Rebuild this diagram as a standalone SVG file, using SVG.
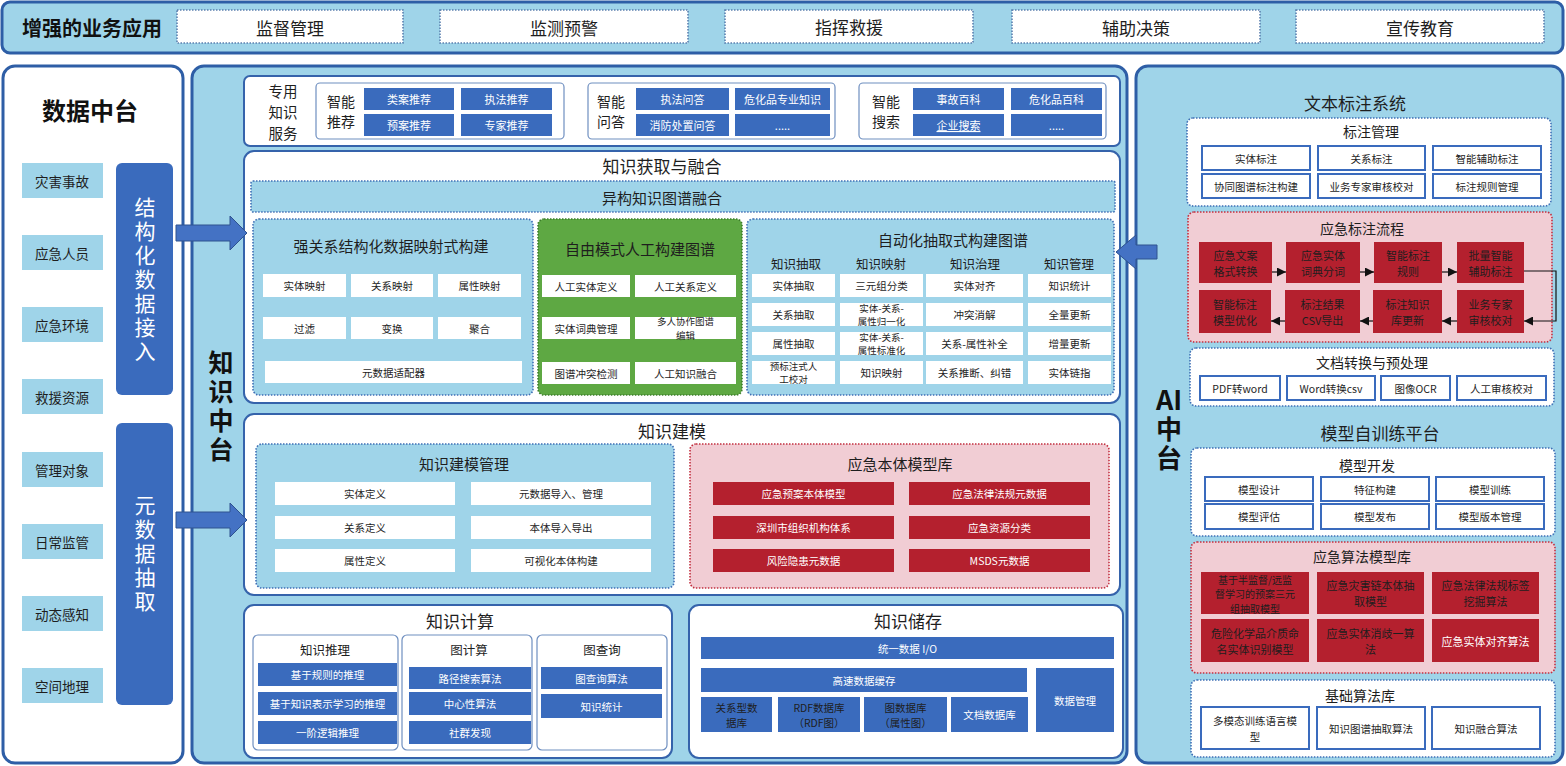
<svg xmlns="http://www.w3.org/2000/svg" width="1566" height="766" viewBox="0 0 1566 766">
<defs>
<style>
text, tspan { font-family: "Noto Sans CJK SC", "Noto Sans", sans-serif; text-anchor: middle; dominant-baseline: central; fill: #1e1e1e; }
.b { font-weight: 700; fill: #111; }
.w { fill: #fff; }
.vt { writing-mode: vertical-rl; }
.f9 { font-size: 9.5px; }
.f10 { font-size: 10.5px; }
.f11 { font-size: 11px; }
.f12 { font-size: 12.5px; }
.f13 { font-size: 13.5px; }
.f14 { font-size: 14px; }
.f15 { font-size: 15px; }
.f17 { font-size: 17px; }
.panel { fill: #9fd4e9; stroke: #2e5ea6; stroke-width: 3; }
.wpanel { fill: #fff; stroke: #2e5ea6; stroke-width: 3; }
.sec { fill: #fff; stroke: #3563ab; stroke-width: 2; }
.sub { fill: #fff; stroke: #6f8fc0; stroke-width: 1.2; }
.topbox { fill: #fff; stroke: #5b7fae; stroke-width: 1.6; stroke-dasharray: 1.5 1.5; }
.dotb { fill: #9fd4e9; stroke: #3f6fb5; stroke-width: 1.6; stroke-dasharray: 1.5 1.5; }
.dotw { fill: #fff; stroke: #3f6fb5; stroke-width: 1.6; stroke-dasharray: 1.5 1.5; }
.dotp { fill: #f1cdd4; stroke: #c23040; stroke-width: 1.6; stroke-dasharray: 1.5 1.5; }
.green { fill: #5ea843; stroke: #3d7f2b; stroke-width: 1.6; stroke-dasharray: 1.5 1.5; }
.bc { fill: #3a6bbd; }
.wc { fill: #fff; }
.wcs { fill: #fff; stroke: #3a6bbd; stroke-width: 2; }
.rc { fill: #b4202e; }
.lb { fill: #9fd4e9; }
.bar { fill: #3a6bbd; }
.blk { fill: #4472c4; stroke: #2f528f; stroke-width: 1; }
.flow { stroke: #111; stroke-width: 1.2; fill: none; }
</style>
<marker id="ah" viewBox="0 0 10 10" refX="10" refY="5" markerWidth="9" markerHeight="9" markerUnits="userSpaceOnUse" orient="auto">
<path d="M0,0 L10,5 L0,10 z" fill="#111"/>
</marker>
</defs>

<rect width="1566" height="766" fill="#fff"/>

<!-- Top bar -->
<g id="top-bar">
<rect class="panel" x="2" y="2" width="1561" height="51" rx="8"/>
<text class="b" x="92" y="27" font-size="20">增强的业务应用</text>
<rect class="topbox" x="177" y="10" width="226" height="33"/>
<text class="f17" x="290" y="27">监督管理</text>
<rect class="topbox" x="440" y="10" width="248" height="33"/>
<text class="f17" x="564" y="27">监测预警</text>
<rect class="topbox" x="725" y="10" width="248" height="33"/>
<text class="f17" x="849" y="26">指挥救援</text>
<rect class="topbox" x="1012" y="10" width="248" height="33"/>
<text class="f17" x="1136" y="27">辅助决策</text>
<rect class="topbox" x="1296" y="10" width="248" height="33"/>
<text class="f17" x="1420" y="27">宣传教育</text>
</g>

<!-- Data platform -->
<g id="data-platform">
<rect class="wpanel" x="3" y="66" width="180" height="697" rx="12"/>
<text class="b" x="90" y="109" font-size="24">数据中台</text>
<rect class="lb" x="22" y="163" width="81" height="35"/><text class="f13" x="62" y="181">灾害事故</text>
<rect class="lb" x="22" y="235" width="81" height="35"/><text class="f13" x="62" y="253">应急人员</text>
<rect class="lb" x="22" y="307" width="81" height="35"/><text class="f13" x="62" y="325">应急环境</text>
<rect class="lb" x="22" y="379" width="81" height="35"/><text class="f13" x="62" y="397">救援资源</text>
<rect class="lb" x="22" y="452" width="81" height="35"/><text class="f13" x="62" y="470">管理对象</text>
<rect class="lb" x="22" y="524" width="81" height="35"/><text class="f13" x="62" y="542">日常监管</text>
<rect class="lb" x="22" y="596" width="81" height="35"/><text class="f13" x="62" y="614">动态感知</text>
<rect class="lb" x="22" y="668" width="81" height="35"/><text class="f13" x="62" y="686">空间地理</text>
<g id="structured-ingest">
<rect class="bar" x="116" y="163" width="57" height="232" rx="6"/>
<text class="w vt" font-size="21" letter-spacing="3" x="145" y="280.5">结构化数据接入</text>
</g>
<g id="metadata-extract">
<rect class="bar" x="116" y="423" width="57" height="282" rx="6"/>
<text class="w vt" font-size="21" letter-spacing="3" x="145" y="554.5">元数据抽取</text>
</g>
</g>

<!-- Knowledge platform -->
<g id="knowledge-platform">
<rect class="panel" x="192" y="66" width="935" height="697" rx="12"/>
<text class="b vt" font-size="25" letter-spacing="4" x="221" y="407.5">知识中台</text>
</g>

<g id="knowledge-services">
<rect class="sec" x="244" y="76" width="876" height="70" rx="6"/>
<text font-size="14.5" x="283" y="90">专用</text>
<text font-size="14.5" x="283" y="111">知识</text>
<text font-size="14.5" x="283" y="132">服务</text>
<g id="smart-recommend">
<rect class="sub" x="316" y="83" width="248" height="56" rx="4"/>
<text class="f14" x="341" y="100.5">智能</text>
<text class="f14" x="341" y="121">推荐</text>
<rect class="bc" x="364" y="88" width="90" height="22"/><text class="w f11" x="409" y="99">类案推荐</text>
<rect class="bc" x="461" y="88" width="91" height="22"/><text class="w f11" x="506.5" y="99">执法推荐</text>
<rect class="bc" x="364" y="114" width="90" height="22"/><text class="w f11" x="409" y="125">预案推荐</text>
<rect class="bc" x="461" y="114" width="91" height="22"/><text class="w f11" x="506.5" y="125">专家推荐</text>
</g>
<g id="smart-qa">
<rect class="sub" x="588" y="83" width="247" height="56" rx="4"/>
<text class="f14" x="611" y="100.5">智能</text>
<text class="f14" x="611" y="121">问答</text>
<rect class="bc" x="636" y="88" width="93" height="22"/><text class="w f11" x="682.5" y="99">执法问答</text>
<rect class="bc" x="735" y="88" width="95" height="22"/><text class="w f11" x="782.5" y="99">危化品专业知识</text>
<rect class="bc" x="636" y="114" width="93" height="22"/><text class="w f11" x="682.5" y="125">消防处置问答</text>
<rect class="bc" x="735" y="114" width="95" height="22"/><text class="w f11" x="782.5" y="125">.....</text>
</g>
<g id="smart-search">
<rect class="sub" x="859" y="83" width="247" height="56" rx="4"/>
<text class="f14" x="886" y="100.5">智能</text>
<text class="f14" x="886" y="121">搜索</text>
<rect class="bc" x="913" y="88" width="91" height="22"/><text class="w f11" x="958.5" y="99">事故百科</text>
<rect class="bc" x="1011" y="88" width="91" height="22"/><text class="w f11" x="1056.5" y="99">危化品百科</text>
<rect class="bc" x="913" y="114" width="91" height="22"/><text class="w f11" x="958.5" y="125" text-decoration="underline">企业搜索</text>
<rect class="bc" x="1011" y="114" width="91" height="22"/><text class="w f11" x="1056.5" y="125">.....</text>
</g>
</g>

<g id="knowledge-acquisition">
<rect class="sec" x="244" y="151" width="876" height="252" rx="10"/>
<text class="f17" x="662" y="165">知识获取与融合</text>
<rect class="dotb" x="251" y="181" width="864" height="31" rx="2"/>
<text class="f15" x="662" y="197">异构知识图谱融合</text>
<g id="mapping-build">
<rect class="dotb" x="253" y="219" width="280" height="176" rx="6"/>
<text class="f15" x="391" y="245">强关系结构化数据映射式构建</text>
<rect class="wc" x="263" y="274" width="83" height="23"/><text class="f10" x="304.5" y="285.5">实体映射</text>
<rect class="wc" x="351" y="274" width="82" height="23"/><text class="f10" x="392" y="285.5">关系映射</text>
<rect class="wc" x="438" y="274" width="83" height="23"/><text class="f10" x="479.5" y="285.5">属性映射</text>
<rect class="wc" x="263" y="317" width="83" height="22"/><text class="f10" x="304.5" y="328">过滤</text>
<rect class="wc" x="351" y="317" width="82" height="22"/><text class="f10" x="392" y="328">变换</text>
<rect class="wc" x="438" y="317" width="83" height="22"/><text class="f10" x="479.5" y="328">聚合</text>
<rect class="wc" x="265" y="361" width="257" height="22"/><text class="f10" x="393.5" y="372">元数据适配器</text>
</g>
<g id="manual-build">
<rect class="green" x="538" y="219" width="204" height="176" rx="6"/>
<text class="f15" x="640" y="248">自由模式人工构建图谱</text>
<rect class="wc" x="542" y="275" width="88" height="22"/><text class="f10" x="586" y="286">人工实体定义</text>
<rect class="wc" x="635" y="275" width="101" height="22"/><text class="f10" x="685.5" y="286">人工关系定义</text>
<rect class="wc" x="542" y="317" width="88" height="22"/><text class="f10" x="586" y="328">实体词典管理</text>
<rect class="wc" x="635" y="317" width="101" height="22"/><text class="f9" x="685.5" y="328"><tspan x="685.5" dy="-6.9">多人协作图谱</tspan><tspan x="685.5" dy="13.8">编辑</tspan></text>
<rect class="wc" x="542" y="362" width="88" height="22"/><text class="f10" x="586" y="373">图谱冲突检测</text>
<rect class="wc" x="635" y="362" width="101" height="22"/><text class="f10" x="685.5" y="373">人工知识融合</text>
</g>
<g id="auto-build">
<rect class="dotb" x="747" y="219" width="367" height="176" rx="6"/>
<text class="f15" x="953" y="239">自动化抽取式构建图谱</text>
<text class="f12" x="796" y="263">知识抽取</text>
<text class="f12" x="881" y="263">知识映射</text>
<text class="f12" x="975" y="263">知识治理</text>
<text class="f12" x="1069" y="263">知识管理</text>
<rect class="wc" x="752" y="274" width="83" height="23"/><text class="f10" x="793.5" y="285.5">实体抽取</text>
<rect class="wc" x="840" y="274" width="83" height="23"/><text class="f10" x="881.5" y="285.5">三元组分类</text>
<rect class="wc" x="926" y="274" width="97" height="23"/><text class="f10" x="974.5" y="285.5">实体对齐</text>
<rect class="wc" x="1028" y="274" width="83" height="23"/><text class="f10" x="1069.5" y="285.5">知识统计</text>
<rect class="wc" x="752" y="303" width="83" height="23"/><text class="f10" x="793.5" y="314.5">关系抽取</text>
<rect class="wc" x="840" y="303" width="83" height="23"/><text class="f9" x="881.5" y="314.5"><tspan x="881.5" dy="-6.9">实体-关系-</tspan><tspan x="881.5" dy="13.8">属性归一化</tspan></text>
<rect class="wc" x="926" y="303" width="97" height="23"/><text class="f10" x="974.5" y="314.5">冲突消解</text>
<rect class="wc" x="1028" y="303" width="83" height="23"/><text class="f10" x="1069.5" y="314.5">全量更新</text>
<rect class="wc" x="752" y="332" width="83" height="23"/><text class="f10" x="793.5" y="343.5">属性抽取</text>
<rect class="wc" x="840" y="332" width="83" height="23"/><text class="f9" x="881.5" y="343.5"><tspan x="881.5" dy="-6.9">实体-关系-</tspan><tspan x="881.5" dy="13.8">属性标准化</tspan></text>
<rect class="wc" x="926" y="332" width="97" height="23"/><text class="f10" x="974.5" y="343.5">关系-属性补全</text>
<rect class="wc" x="1028" y="332" width="83" height="23"/><text class="f10" x="1069.5" y="343.5">增量更新</text>
<rect class="wc" x="752" y="361" width="83" height="23"/><text class="f9" x="793.5" y="372.5"><tspan x="793.5" dy="-6.9">预标注式人</tspan><tspan x="793.5" dy="13.8">工校对</tspan></text>
<rect class="wc" x="840" y="361" width="83" height="23"/><text class="f10" x="881.5" y="372.5">知识映射</text>
<rect class="wc" x="926" y="361" width="97" height="23"/><text class="f10" x="974.5" y="372.5">关系推断、纠错</text>
<rect class="wc" x="1028" y="361" width="83" height="23"/><text class="f10" x="1069.5" y="372.5">实体链指</text>
</g>
</g>

<g id="knowledge-modeling">
<rect class="sec" x="244" y="414" width="876" height="181" rx="10"/>
<text class="f17" x="672" y="430">知识建模</text>
<g id="modeling-management">
<rect class="dotb" x="256" y="444" width="418" height="144" rx="6"/>
<text class="f15" x="464" y="463">知识建模管理</text>
<rect class="wc" x="275" y="482" width="180" height="23"/><text class="f10" x="365" y="493.5">实体定义</text>
<rect class="wc" x="471" y="482" width="180" height="23"/><text class="f10" x="561" y="493.5">元数据导入、管理</text>
<rect class="wc" x="275" y="516" width="180" height="23"/><text class="f10" x="365" y="527.5">关系定义</text>
<rect class="wc" x="471" y="516" width="180" height="23"/><text class="f10" x="561" y="527.5">本体导入导出</text>
<rect class="wc" x="275" y="549" width="180" height="23"/><text class="f10" x="365" y="560.5">属性定义</text>
<rect class="wc" x="471" y="549" width="180" height="23"/><text class="f10" x="561" y="560.5">可视化本体构建</text>
</g>
<g id="ontology-library">
<rect class="dotp" x="690" y="444" width="419" height="144" rx="6"/>
<text class="f15" x="900" y="463">应急本体模型库</text>
<rect class="rc" x="713" y="482" width="181" height="23"/><text class="w f10" x="803.5" y="493.5">应急预案本体模型</text>
<rect class="rc" x="909" y="482" width="181" height="23"/><text class="w f10" x="999.5" y="493.5">应急法律法规元数据</text>
<rect class="rc" x="713" y="516" width="181" height="23"/><text class="w f10" x="803.5" y="527.5">深圳市组织机构体系</text>
<rect class="rc" x="909" y="516" width="181" height="23"/><text class="w f10" x="999.5" y="527.5">应急资源分类</text>
<rect class="rc" x="713" y="549" width="181" height="23"/><text class="w f10" x="803.5" y="560.5">风险隐患元数据</text>
<rect class="rc" x="909" y="549" width="181" height="23"/><text class="w f10" x="999.5" y="560.5">MSDS元数据</text>
</g>
</g>

<g id="knowledge-computing">
<rect class="sec" x="244" y="605" width="428" height="153" rx="10"/>
<text class="f17" x="460" y="620">知识计算</text>
<g id="reasoning">
<rect class="sub" x="253" y="635" width="145" height="115" rx="5"/>
<text class="f12" x="325" y="649">知识推理</text>
<rect class="bc" x="258" y="663" width="139" height="23"/><text class="w f10" x="327.5" y="674.5">基于规则的推理</text>
<rect class="bc" x="258" y="692" width="139" height="23"/><text class="w f10" x="327.5" y="703.5">基于知识表示学习的推理</text>
<rect class="bc" x="258" y="721" width="139" height="23"/><text class="w f10" x="327.5" y="732.5">一阶逻辑推理</text>
</g>
<g id="graph-compute">
<rect class="sub" x="402" y="635" width="130" height="115" rx="5"/>
<text class="f12" x="469" y="649">图计算</text>
<rect class="bc" x="409" y="667" width="122" height="22"/><text class="w f10" x="470" y="678">路径搜索算法</text>
<rect class="bc" x="409" y="692" width="122" height="23"/><text class="w f10" x="470" y="703.5">中心性算法</text>
<rect class="bc" x="409" y="721" width="122" height="23"/><text class="w f10" x="470" y="732.5">社群发现</text>
</g>
<g id="graph-query">
<rect class="sub" x="537" y="635" width="130" height="115" rx="5"/>
<text class="f12" x="602" y="649">图查询</text>
<rect class="bc" x="541" y="667" width="121" height="22"/><text class="w f10" x="601.5" y="678">图查询算法</text>
<rect class="bc" x="541" y="694" width="121" height="24"/><text class="w f10" x="601.5" y="706">知识统计</text>
</g>
</g>

<g id="knowledge-storage">
<rect class="sec" x="689" y="605" width="434" height="153" rx="10"/>
<text class="f17" x="908" y="620">知识储存</text>
<rect class="bc" x="701" y="637" width="413" height="22"/><text class="w f10" x="907.5" y="648">统一数据 I/O</text>
<rect class="bc" x="701" y="668" width="326" height="24"/><text class="w f10" x="864" y="680">高速数据缓存</text>
<rect class="bc" x="1036" y="668" width="78" height="64"/><text class="w f10" x="1075" y="700">数据管理</text>
<rect class="bc" x="701" y="697" width="71" height="35"/><text class="w f10" x="736.5" y="714.5"><tspan x="736.5" dy="-7.75">关系型数</tspan><tspan x="736.5" dy="15.5">据库</tspan></text>
<rect class="bc" x="778" y="697" width="82" height="35"/><text class="w f10" x="819" y="714.5"><tspan x="819" dy="-7.75">RDF数据库</tspan><tspan x="819" dy="15.5">（RDF图）</tspan></text>
<rect class="bc" x="864" y="697" width="83" height="35"/><text class="w f10" x="905.5" y="714.5"><tspan x="905.5" dy="-7.75">图数据库</tspan><tspan x="905.5" dy="15.5">（属性图）</tspan></text>
<rect class="bc" x="951" y="697" width="77" height="35"/><text class="w f10" x="989.5" y="714.5">文档数据库</text>
</g>

<!-- AI platform -->
<g id="ai-platform">
<rect class="panel" x="1136" y="66" width="427" height="697" rx="12"/>
<text class="b" font-size="27" x="1169" y="398">AI</text>
<text class="b vt" font-size="26" letter-spacing="3" x="1169" y="445">中台</text>
<text class="f17" x="1355" y="102">文本标注系统</text>
<text class="f17" x="1380" y="432">模型自训练平台</text>
</g>

<g id="annotation-management">
<rect class="dotw" x="1187" y="118" width="364" height="88" rx="6"/>
<text class="f14" x="1371" y="131">标注管理</text>
<rect class="wcs" x="1202" y="146" width="108" height="24"/><text class="f10" x="1256" y="158">实体标注</text>
<rect class="wcs" x="1318" y="146" width="107" height="24"/><text class="f10" x="1371.5" y="158">关系标注</text>
<rect class="wcs" x="1433" y="146" width="108" height="24"/><text class="f10" x="1487" y="158">智能辅助标注</text>
<rect class="wcs" x="1202" y="174" width="108" height="24"/><text class="f10" x="1256" y="186">协同图谱标注构建</text>
<rect class="wcs" x="1318" y="174" width="107" height="24"/><text class="f10" x="1371.5" y="186">业务专家审核校对</text>
<rect class="wcs" x="1433" y="174" width="108" height="24"/><text class="f10" x="1487" y="186">标注规则管理</text>
</g>

<g id="annotation-flow">
<rect class="dotp" x="1188" y="212" width="364" height="130" rx="6"/>
<text class="f14" x="1362" y="228">应急标注流程</text>
<rect class="rc" x="1199" y="242" width="73" height="41"/><text class="w f11" x="1235.5" y="262.5"><tspan x="1235.5" dy="-8">应急文案</tspan><tspan x="1235.5" dy="16">格式转换</tspan></text>
<rect class="rc" x="1286" y="242" width="74" height="41"/><text class="w f11" x="1323" y="262.5"><tspan x="1323" dy="-8">应急实体</tspan><tspan x="1323" dy="16">词典分词</tspan></text>
<rect class="rc" x="1374" y="242" width="68" height="41"/><text class="w f11" x="1408" y="262.5"><tspan x="1408" dy="-8">智能标注</tspan><tspan x="1408" dy="16">规则</tspan></text>
<rect class="rc" x="1457" y="242" width="67" height="41"/><text class="w f11" x="1490.5" y="262.5"><tspan x="1490.5" dy="-8">批量智能</tspan><tspan x="1490.5" dy="16">辅助标注</tspan></text>
<rect class="rc" x="1199" y="290" width="72" height="43"/><text class="w f11" x="1235" y="311.5"><tspan x="1235" dy="-8">智能标注</tspan><tspan x="1235" dy="16">模型优化</tspan></text>
<rect class="rc" x="1285" y="290" width="75" height="43"/><text class="w f11" x="1322.5" y="311.5"><tspan x="1322.5" dy="-8">标注结果</tspan><tspan x="1322.5" dy="16">CSV导出</tspan></text>
<rect class="rc" x="1373" y="290" width="69" height="43"/><text class="w f11" x="1407.5" y="311.5"><tspan x="1407.5" dy="-8">标注知识</tspan><tspan x="1407.5" dy="16">库更新</tspan></text>
<rect class="rc" x="1457" y="290" width="67" height="43"/><text class="w f11" x="1490.5" y="311.5"><tspan x="1490.5" dy="-8">业务专家</tspan><tspan x="1490.5" dy="16">审核校对</tspan></text>
</g>

<g id="doc-preprocess">
<rect class="dotw" x="1190" y="348" width="364" height="58" rx="6"/>
<text class="f14" x="1372" y="362">文档转换与预处理</text>
<rect class="wcs" x="1200" y="376" width="80" height="24"/><text class="f10" x="1240" y="388">PDF转word</text>
<rect class="wcs" x="1287" y="376" width="88" height="24"/><text class="f10" x="1331" y="388">Word转换csv</text>
<rect class="wcs" x="1381" y="376" width="69" height="24"/><text class="f10" x="1415.5" y="388">图像OCR</text>
<rect class="wcs" x="1457" y="376" width="89" height="24"/><text class="f10" x="1501.5" y="388">人工审核校对</text>
</g>

<g id="model-development">
<rect class="dotw" x="1191" y="448" width="364" height="88" rx="6"/>
<text class="f14" x="1367" y="465">模型开发</text>
<rect class="wcs" x="1205" y="477" width="108" height="24"/><text class="f10" x="1259" y="489">模型设计</text>
<rect class="wcs" x="1321" y="477" width="108" height="24"/><text class="f10" x="1375" y="489">特征构建</text>
<rect class="wcs" x="1436" y="477" width="108" height="24"/><text class="f10" x="1490" y="489">模型训练</text>
<rect class="wcs" x="1205" y="504" width="108" height="25"/><text class="f10" x="1259" y="516.5">模型评估</text>
<rect class="wcs" x="1321" y="504" width="108" height="25"/><text class="f10" x="1375" y="516.5">模型发布</text>
<rect class="wcs" x="1436" y="504" width="108" height="25"/><text class="f10" x="1490" y="516.5">模型版本管理</text>
</g>

<g id="algorithm-library">
<rect class="dotp" x="1191" y="542" width="364" height="131" rx="6"/>
<text class="f14" x="1362" y="556">应急算法模型库</text>
<rect class="rc" x="1201" y="572" width="108" height="42"/><text class="w" font-size="10px" x="1255" y="593"><tspan x="1255" dy="-14.5">基于半监督/远监</tspan><tspan x="1255" dy="14.5">督学习的预案三元</tspan><tspan x="1255" dy="14.5">组抽取模型</tspan></text>
<rect class="rc" x="1317" y="572" width="107" height="42"/><text class="w f11" x="1370.5" y="593"><tspan x="1370.5" dy="-8">应急灾害链本体抽</tspan><tspan x="1370.5" dy="16">取模型</tspan></text>
<rect class="rc" x="1432" y="572" width="107" height="42"/><text class="w f11" x="1485.5" y="593"><tspan x="1485.5" dy="-8">应急法律法规标签</tspan><tspan x="1485.5" dy="16">挖掘算法</tspan></text>
<rect class="rc" x="1201" y="619" width="108" height="43"/><text class="w f11" x="1255" y="640.5"><tspan x="1255" dy="-8">危险化学品介质命</tspan><tspan x="1255" dy="16">名实体识别模型</tspan></text>
<rect class="rc" x="1317" y="619" width="107" height="43"/><text class="w f11" x="1370.5" y="640.5"><tspan x="1370.5" dy="-8">应急实体消歧一算</tspan><tspan x="1370.5" dy="16">法</tspan></text>
<rect class="rc" x="1432" y="619" width="107" height="43"/><text class="w f11" x="1485.5" y="640.5">应急实体对齐算法</text>
</g>

<g id="base-algorithms">
<rect class="dotw" x="1191" y="680" width="364" height="77" rx="6"/>
<text class="f14" x="1360" y="695">基础算法库</text>
<rect class="wcs" x="1201" y="707" width="108" height="42"/><text class="f10" x="1255" y="728"><tspan x="1255" dy="-7.75">多模态训练语言模</tspan><tspan x="1255" dy="15.5">型</tspan></text>
<rect class="wcs" x="1317" y="707" width="108" height="42"/><text class="f10" x="1371" y="728">知识图谱抽取算法</text>
<rect class="wcs" x="1432" y="707" width="108" height="42"/><text class="f10" x="1486" y="728">知识融合算法</text>
</g>

<!-- Connectors -->
<g id="connectors">
<polygon class="blk" points="176,225 230,225 230,216 247,233 230,250 230,241 176,241"/>
<polygon class="blk" points="176,512 230,512 230,503 247,520 230,537 230,528 176,528"/>
<polygon class="blk" points="1157,245 1136,245 1136,235 1116,252 1136,269 1136,259 1157,259"/>
<line class="flow" x1="1272" y1="272" x2="1286" y2="272" marker-end="url(#ah)"/>
<line class="flow" x1="1360" y1="272" x2="1374" y2="272" marker-end="url(#ah)"/>
<line class="flow" x1="1442" y1="272" x2="1457" y2="272" marker-end="url(#ah)"/>
<path class="flow" d="M1524,271 H1556 V321 H1524" marker-end="url(#ah)"/>
<line class="flow" x1="1457" y1="321" x2="1442" y2="321" marker-end="url(#ah)"/>
<line class="flow" x1="1373" y1="321" x2="1360" y2="321" marker-end="url(#ah)"/>
<line class="flow" x1="1285" y1="321" x2="1271" y2="321" marker-end="url(#ah)"/>
</g>
</svg>
